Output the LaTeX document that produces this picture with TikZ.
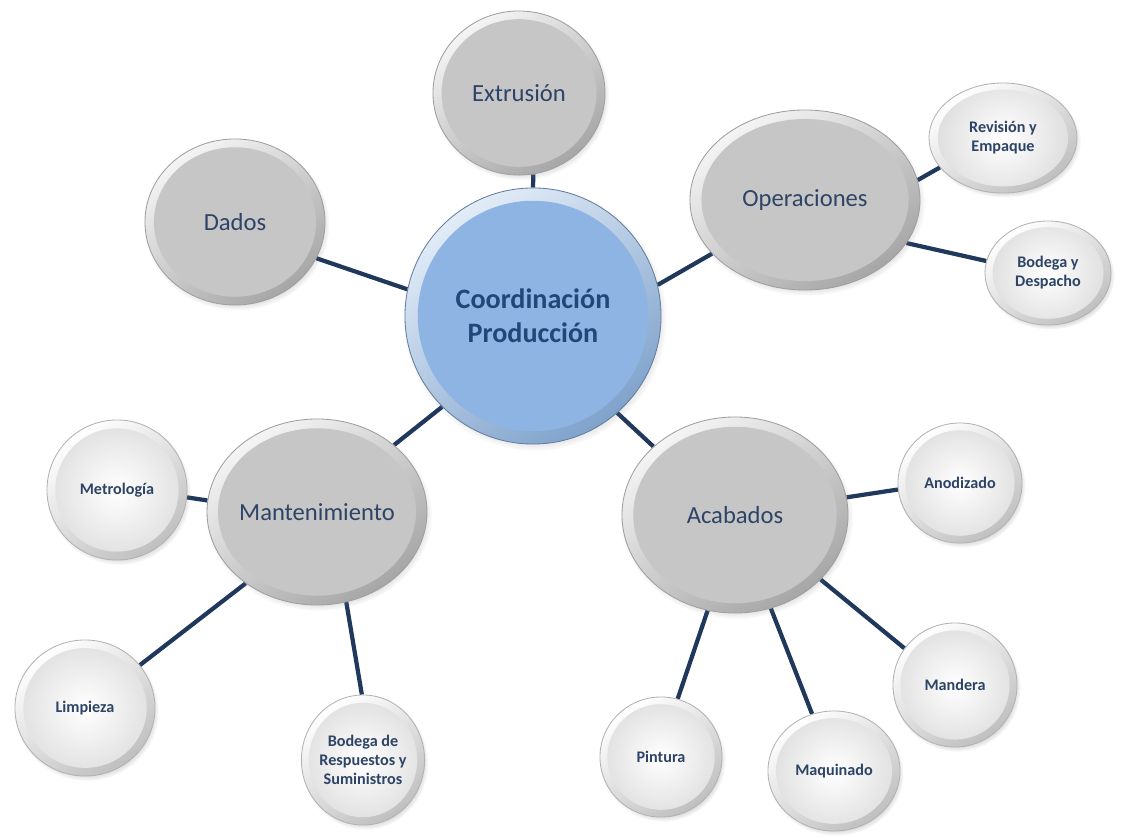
\documentclass[tikz,border=0pt]{standalone}
\usepackage{fontspec}
\setmainfont{Carlito}
\usetikzlibrary{shapes.geometric,shadows,backgrounds,calc}
\definecolor{linkblue}{RGB}{31,56,92}
\definecolor{txtblue}{RGB}{45,68,102}
\definecolor{hubblue}{RGB}{141,180,226}
\definecolor{hubtext}{RGB}{34,70,120}

\begin{document}
\begin{tikzpicture}[x=0.025cm, y=-0.025cm,
	bub/.style 2 args={ellipse, inner sep=0pt, align=center, minimum width=#1*0.05cm, minimum height=#2*0.05cm, line width=0.6pt, text=txtblue, circular drop shadow={shadow xshift=1.2pt, shadow yshift=-2pt, opacity=0.45, shadow scale=1.03}},
	face/.style={path picture={\fill[#1] let \p1=(path picture bounding box.north east), \p2=(path picture bounding box.center) in (\p2) ellipse ({0.9*(\x1-\x2)} and {0.9*(\y1-\y2)});}},
	wface/.style={path picture={\shade[inner color=white, outer color=#1] let \p1=(path picture bounding box.north east), \p2=(path picture bounding box.center) in (\p2) ellipse ({0.88*(\x1-\x2)} and {0.88*(\y1-\y2)});}},
	grayball/.style={draw=gray!75, top color=gray!8, bottom color=gray!70, shading angle=35, face=gray!45, font=\fontsize{17.5}{21}\selectfont},
	whiteball/.style={draw=gray!60, top color=white, bottom color=gray!50, shading angle=35, wface=gray!25, font=\bfseries\fontsize{11.5}{13.5}\selectfont},
	hub/.style={draw=hubblue!70!black, top color=hubblue!25, bottom color=hubblue!90!black, shading angle=35, face=hubblue, text=hubtext, font=\bfseries\fontsize{20}{24}\selectfont},
	link/.style={draw=linkblue, line width=3pt}]
			%%%%% START %%%%%
			
			\useasboundingbox (0, 0) rectangle (1139, 840);
			
			\node[bub={128}{128}, hub] (coord) at (533, 316) {Coordinación\\Producción};
			
			\node[bub={86}{82}, grayball] (extr) at (519, 93) {Extrusión};
			\node[bub={90}{83}, grayball] (dados) at (235, 222) {Dados};
			\node[bub={115}{90}, grayball] (oper) at (805, 200) {Operaciones};
			\node[bub={103}{93}, grayball] (mant) at (317, 512) {Mantenimiento};
			\node[bub={113}{98}, grayball] (acab) at (735, 515) {Acabados};
			
			\node[bub={74}{55}, whiteball] (revis) at (1003, 138) {Revisión y\\Empaque};
			\node[bub={63}{52}, whiteball] (despa) at (1048, 273) {Bodega y\\Despacho};
			
			\node[bub={70}{70}, whiteball] (metro) at (117, 490) {Metrología};
			\node[bub={70}{68}, whiteball] (limp) at (85, 708) {Limpieza};
			\node[bub={58}{65}, whiteball] (repu) at (363, 760) {Bodega de\\Respuestos y\\Suministros};
			
			\node[bub={62}{60}, whiteball] (anod) at (960, 483) {Anodizado};
			\node[bub={62}{62}, whiteball] (mand) at (955, 685) {Mandera};
			\node[bub={66}{60}, whiteball] (maqu) at (834, 771) {Maquinado};
			\node[bub={61}{60}, whiteball] (pint) at (661, 757) {Pintura};
			
			\begin{scope}[on background layer]
			\fill[white] (0, 0) rectangle (1139, 840);
			
			\draw[link] (coord.90) -- (extr.-80);
			\draw[link] (coord.168) -- (dados.-24);
			\draw[link] (coord.14) -- (oper.210);
			\draw[link] (coord.225) -- (mant.41);
			\draw[link] (coord.-49) -- (acab.140);
			
			\draw[link] (oper.10) -- (revis.205);
			\draw[link] (oper.-23) -- (despa.169);
			
			\draw[link] (mant.174) -- (metro.-6);
			\draw[link] (mant.225) -- (limp.38);
			\draw[link] (mant.-72) -- (repu.91);
			
			\draw[link] (acab.9) -- (anod.186);
			\draw[link] (acab.-37) -- (mand.144);
			\draw[link] (acab.-69) -- (maqu.111);
			\draw[link] (acab.254) -- (pint.74);
			\end{scope}
			
			%%%%% END %%%%%
\end{tikzpicture}
\end{document}
